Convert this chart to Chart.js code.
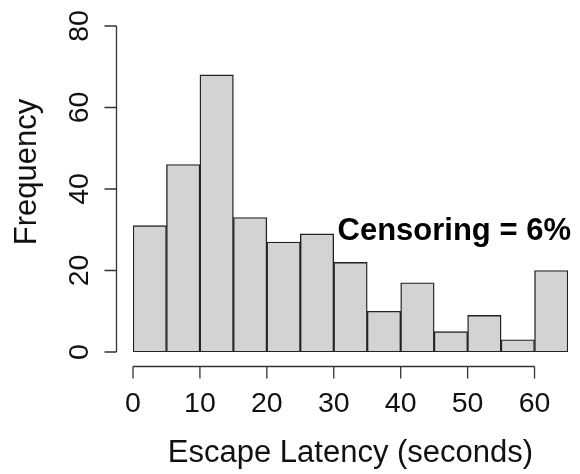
<!DOCTYPE html>
<html>
<head>
<meta charset="utf-8">
<script src="https://cdn.jsdelivr.net/npm/chart.js@4.4.1/dist/chart.umd.min.js"></script>
<style>
  html, body { margin: 0; padding: 0; background: #ffffff; }
  #wrap { width: 580px; height: 474px; position: relative; }
</style>
</head>
<body>
<div id="wrap"><canvas id="histChart" width="580" height="474"></canvas></div>
<script>
// histogram bins (seconds) and counts
const binStarts = [0, 5, 10, 15, 20, 25, 30, 35, 40, 45, 50, 55, 60];
const binWidth = 5;
const counts = [31, 46, 68, 33, 27, 29, 22, 10, 17, 5, 9, 3, 20];
const xTicks = [0, 10, 20, 30, 40, 50, 60];
const yTicks = [0, 20, 40, 60, 80];
const xTitle = "Escape Latency (seconds)";
const yTitle = "Frequency";
const note = "Censoring = 6%";
const notePos = { x: 48, y: 27.4 };

const FONT = "'Liberation Sans', Arial, Helvetica, sans-serif";
const ctx = document.getElementById("histChart").getContext("2d");

// base-graphics style axes, drawn offset from the plot region
const rAxes = {
  id: "rAxes",
  afterDraw(chart) {
    const c = chart.ctx;
    const xs = chart.scales.x;
    const ys = chart.scales.y;
    const axisY = 366.5;
    const axisX = 116.5;
    c.save();
    c.strokeStyle = "#333333";
    c.lineWidth = 1.3;
    c.fillStyle = "#111111";

    // x axis
    c.beginPath();
    c.moveTo(xs.getPixelForValue(xTicks[0]), axisY);
    c.lineTo(xs.getPixelForValue(xTicks[xTicks.length - 1]), axisY);
    xTicks.forEach(t => {
      const px = xs.getPixelForValue(t);
      c.moveTo(px, axisY);
      c.lineTo(px, axisY + 12);
    });
    c.stroke();
    c.font = "28.5px " + FONT;
    c.textAlign = "center";
    c.textBaseline = "alphabetic";
    xTicks.forEach(t => c.fillText(String(t), xs.getPixelForValue(t), 412));

    // y axis
    c.beginPath();
    c.moveTo(axisX, ys.getPixelForValue(yTicks[0]));
    c.lineTo(axisX, ys.getPixelForValue(yTicks[yTicks.length - 1]));
    yTicks.forEach(t => {
      const py = ys.getPixelForValue(t);
      c.moveTo(axisX, py);
      c.lineTo(axisX - 12, py);
    });
    c.stroke();
    yTicks.forEach(t => {
      c.save();
      c.translate(88, ys.getPixelForValue(t));
      c.rotate(-Math.PI / 2);
      c.fillText(String(t), 0, 0);
      c.restore();
    });

    // axis titles
    c.font = "31px " + FONT;
    c.fillText(xTitle, (xs.left + xs.right) / 2, 462);
    c.save();
    c.translate(36, 172);
    c.rotate(-Math.PI / 2);
    c.fillText(yTitle, 0, 0);
    c.restore();

    // censoring note
    c.font = "bold 31px " + FONT;
    c.fillStyle = "#000000";
    c.fillText(note, xs.getPixelForValue(notePos.x), ys.getPixelForValue(notePos.y));
    c.restore();
  }
};

const histChart = new Chart(ctx, {
  type: "bar",
  data: {
    datasets: [{
      label: yTitle,
      data: binStarts.map((s, i) => ({ x: s + binWidth / 2, y: counts[i] })),
      backgroundColor: "#d3d3d3",
      borderColor: "#222222",
      borderWidth: 1.4,
      borderSkipped: false,
      barPercentage: 1,
      categoryPercentage: 1
    }]
  },
  options: {
    responsive: false,
    animation: false,
    layout: { padding: { left: 133, right: 12, top: 26, bottom: 122 } },
    plugins: {
      legend: { display: false },
      tooltip: { enabled: false }
    },
    scales: {
      x: { type: "linear", min: 0, max: 65, display: false, offset: false },
      y: { min: 0, max: 80, display: false }
    }
  },
  plugins: [rAxes]
});
</script>
</body>
</html>
